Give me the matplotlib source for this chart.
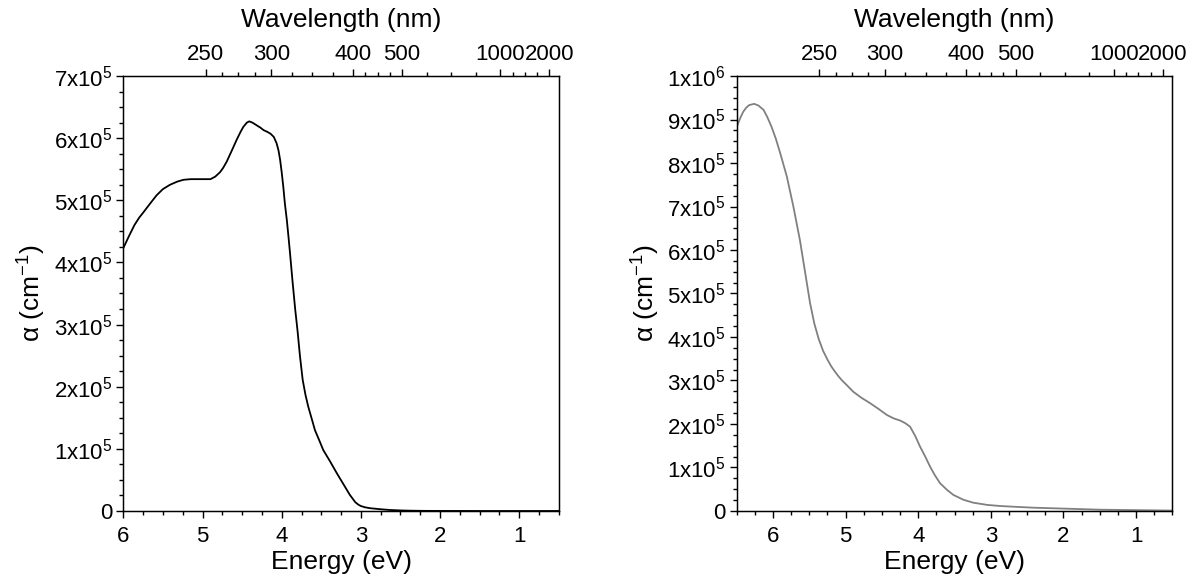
import matplotlib
matplotlib.use("Agg")
import matplotlib.pyplot as plt

plt.rcParams['font.family'] = ['Liberation Sans', 'DejaVu Sans']
plt.rcParams['mathtext.default'] = 'regular'

# left panel: absorption coefficient (black)
e_left = [6.0, 5.93, 5.86, 5.8, 5.75, 5.66, 5.58, 5.5, 5.41, 5.32, 5.24, 5.15,
          5.07, 4.98, 4.9, 4.84, 4.78, 4.74, 4.695, 4.63, 4.57, 4.52, 4.485,
          4.44, 4.41, 4.37, 4.32, 4.27, 4.23, 4.18, 4.14, 4.1, 4.065, 4.04,
          4.02, 4.0, 3.98, 3.96, 3.935, 3.915, 3.895, 3.865, 3.83, 3.8, 3.77,
          3.735, 3.7, 3.665, 3.62, 3.58, 3.53, 3.475, 3.39, 3.305, 3.22, 3.14,
          3.07, 3.03, 3.0, 2.95, 2.885, 2.75, 2.63, 2.5, 2.38, 2.2, 2.0, 1.5,
          1.0, 0.5]
a_left = [4.23, 4.42, 4.6, 4.72, 4.8, 4.95, 5.08, 5.18, 5.25, 5.3, 5.33, 5.34,
          5.34, 5.34, 5.34, 5.38, 5.45, 5.52, 5.62, 5.8, 5.97, 6.1, 6.18,
          6.25, 6.27, 6.25, 6.21, 6.17, 6.13, 6.1, 6.07, 6.02, 5.92, 5.8,
          5.65, 5.45, 5.22, 4.95, 4.68, 4.42, 4.15, 3.72, 3.25, 2.9, 2.5,
          2.11, 1.87, 1.68, 1.48, 1.3, 1.15, 0.98, 0.8, 0.61, 0.43, 0.26,
          0.14, 0.1, 0.08, 0.06, 0.045, 0.028, 0.016, 0.009, 0.005, 0.002, 0.001,
          0.0, 0.0, 0.0]

# right panel: absorption coefficient (grey)
e_right = [6.5, 6.45, 6.41, 6.37, 6.33, 6.26, 6.2, 6.13, 6.08, 6.02, 5.96, 5.9,
           5.81, 5.72, 5.63, 5.545, 5.49, 5.43, 5.37, 5.31, 5.25, 5.2, 5.15,
           5.1, 5.054, 4.97, 4.894, 4.78, 4.664, 4.55, 4.434, 4.34, 4.25, 4.18,
           4.113, 4.04, 3.975, 3.9, 3.837, 3.77, 3.7, 3.6, 3.516, 3.38, 3.24,
           3.05, 2.873, 2.65, 2.414, 1.955, 1.5, 1.04, 0.5]
a_right = [8.83, 9.04, 9.18, 9.27, 9.33, 9.36, 9.32, 9.22, 9.06, 8.83, 8.55, 8.22,
           7.69, 7.0, 6.23, 5.35, 4.78, 4.3, 3.95, 3.68, 3.48, 3.33, 3.21,
           3.1, 3.01, 2.87, 2.74, 2.6, 2.48, 2.35, 2.21, 2.13, 2.08, 2.02,
           1.94, 1.72, 1.48, 1.24, 1.02, 0.82, 0.64, 0.48, 0.37, 0.26, 0.19,
           0.14, 0.115, 0.095, 0.076, 0.053, 0.03, 0.02, 0.01]

wl_ticks = [250, 300, 400, 500, 1000, 2000]
hc = 1239.84

fig = plt.figure(figsize=(11.96, 5.86), dpi=100)
ax1 = fig.add_axes([0.1031, 0.128, 0.3642, 0.7423])
ax2 = fig.add_axes([0.616, 0.128, 0.3642, 0.7423])


def style(ax, xlim, ymax_units, labels):
    ax.set_xlim(*xlim)
    ax.set_ylim(0, ymax_units)
    ax.set_xticks(range(1, 7))
    ax.set_xticks([v / 4 for v in range(2, int(xlim[0] * 4) + 1)], minor=True)
    ax.set_yticks(range(0, ymax_units + 1))
    ax.set_yticklabels(labels)
    ax.set_yticks([v / 4 for v in range(0, ymax_units * 4 + 1)], minor=True)
    ax.tick_params(which='major', direction='out', length=5, width=1,
                   labelsize=16, top=False, right=False, pad=3)
    ax.tick_params(axis='x', which='major', pad=6)
    ax.tick_params(which='minor', direction='out', length=3, width=1,
                   top=False, right=False)
    for s in ax.spines.values():
        s.set_linewidth(1.0)
    ax.set_xlabel('Energy (eV)', fontsize=19, labelpad=2)
    ax.set_ylabel(r'$\alpha$ (cm$^{-1}$)', fontsize=19, labelpad=4)

    # top wavelength axis (linked to the 6 -> 0.5 eV range)
    top = ax.twiny()
    top.set_xlim(6, 0.5)
    top.set_xticks([hc / w for w in wl_ticks])
    top.set_xticklabels([str(w) for w in wl_ticks])
    minors = []
    for a, b in zip(wl_ticks[:-1], wl_ticks[1:]):
        ea, eb = hc / a, hc / b
        minors += [ea + (eb - ea) * k / 4 for k in (1, 2, 3)]
    top.set_xticks(minors, minor=True)
    top.tick_params(which='major', direction='out', length=5, width=1,
                    labelsize=16, pad=3)
    top.tick_params(which='minor', direction='out', length=3, width=1)
    top.set_xlabel('Wavelength (nm)', fontsize=19, labelpad=12)
    return top


lab_left = ['0'] + ['%dx10$^{5}$' % k for k in range(1, 8)]
lab_right = ['0'] + ['%dx10$^{5}$' % k for k in range(1, 10)] + ['1x10$^{6}$']

ax1.plot(e_left, a_left, color='black', lw=1.3)
style(ax1, (6, 0.5), 7, lab_left)

ax2.plot(e_right, a_right, color='#808080', lw=1.3)
style(ax2, (6.5, 0.5), 10, lab_right)

fig.savefig('out.png', dpi=100)
